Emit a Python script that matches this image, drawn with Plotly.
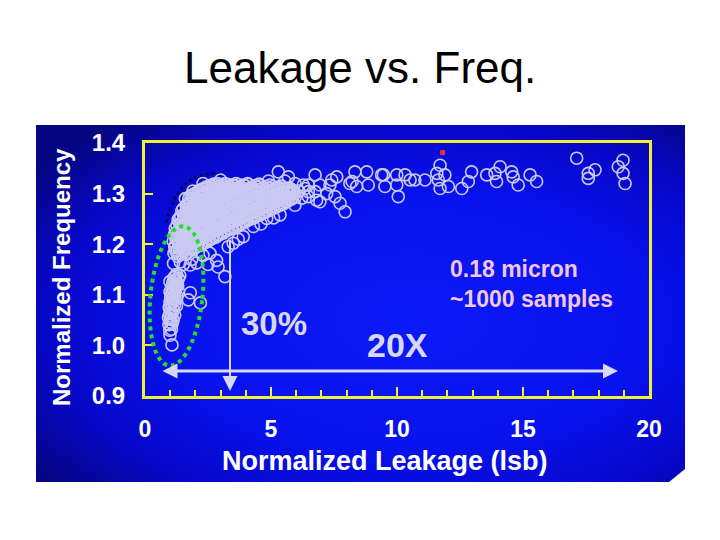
import base64
import numpy as np
import plotly.graph_objects as go

# ---------------- data ----------------
# dense main cloud (first pass)
cloud_leak = [
    1.15, 1.18, 1.12, 1.17, 1.20,
    1.30, 1.28, 1.33, 1.29, 1.32, 1.27, 1.31,
    1.46, 1.43, 1.47, 1.44, 1.48, 1.45, 1.42, 1.46,
    1.61, 1.58, 1.62, 1.59, 1.63, 1.60, 1.57, 1.61, 1.64,
    1.76, 1.73, 1.77, 1.74, 1.78, 1.75, 1.72, 1.76, 1.79, 1.74,
    1.91, 1.88, 1.92, 1.89, 1.93, 1.90, 1.87, 1.91, 1.94, 1.89,
    2.06, 2.03, 2.07, 2.04, 2.08, 2.05, 2.02, 2.06, 2.09, 2.04,
    2.21, 2.18, 2.22, 2.19, 2.23, 2.20, 2.17, 2.21, 2.24, 2.19,
    2.36, 2.33, 2.37, 2.34, 2.38, 2.35, 2.32, 2.36, 2.39, 2.34,
    2.51, 2.48, 2.52, 2.49, 2.53, 2.50, 2.47, 2.51, 2.54, 2.49,
    2.66, 2.63, 2.67, 2.64, 2.68, 2.65, 2.62, 2.66, 2.69, 2.64,
    2.81, 2.78, 2.82, 2.79, 2.83, 2.80, 2.77, 2.81, 2.84, 2.79,
    2.96, 2.93, 2.97, 2.94, 2.98, 2.95, 2.92, 2.96, 2.99,
    3.11, 3.08, 3.12, 3.09, 3.13, 3.10, 3.07, 3.11, 3.14,
    3.26, 3.23, 3.27, 3.24, 3.28, 3.25, 3.22, 3.26, 3.29,
    3.41, 3.38, 3.42, 3.39, 3.43, 3.40, 3.37, 3.41,
    3.56, 3.53, 3.57, 3.54, 3.58, 3.55, 3.52, 3.56,
    3.71, 3.68, 3.72, 3.69, 3.73, 3.70, 3.67, 3.71,
    3.86, 3.83, 3.87, 3.84, 3.88, 3.85, 3.82,
    4.01, 3.98, 4.02, 3.99, 4.03, 4.00, 3.97,
    4.16, 4.13, 4.17, 4.14, 4.18, 4.15, 4.12,
    4.31, 4.28, 4.32, 4.29, 4.33, 4.30,
    4.46, 4.43, 4.47, 4.44, 4.48, 4.45,
    4.61, 4.58, 4.62, 4.59, 4.63, 4.60,
    4.76, 4.73, 4.77, 4.74, 4.78,
    4.91, 4.88, 4.92, 4.89, 4.93,
    5.06, 5.03, 5.07, 5.04, 5.08,
    5.21, 5.18, 5.22, 5.19,
    5.36, 5.33, 5.37, 5.34,
    5.51, 5.48, 5.52, 5.49,
    5.66, 5.63, 5.67,
    5.81, 5.78, 5.82,
    5.96, 5.93,
]
cloud_freq = [
    1.182, 1.194, 1.206, 1.219, 1.231,
    1.176, 1.188, 1.200, 1.212, 1.224, 1.237, 1.248,
    1.183, 1.195, 1.207, 1.219, 1.231, 1.243, 1.255, 1.266,
    1.180, 1.192, 1.204, 1.216, 1.228, 1.240, 1.252, 1.263, 1.275,
    1.186, 1.198, 1.210, 1.222, 1.234, 1.246, 1.258, 1.270, 1.281, 1.291,
    1.189, 1.201, 1.213, 1.225, 1.237, 1.249, 1.261, 1.273, 1.285, 1.296,
    1.195, 1.207, 1.219, 1.231, 1.243, 1.255, 1.267, 1.279, 1.290, 1.301,
    1.198, 1.210, 1.222, 1.234, 1.246, 1.258, 1.270, 1.282, 1.294, 1.305,
    1.203, 1.215, 1.227, 1.239, 1.251, 1.263, 1.275, 1.287, 1.298, 1.309,
    1.206, 1.218, 1.230, 1.242, 1.254, 1.266, 1.278, 1.290, 1.301, 1.312,
    1.211, 1.223, 1.235, 1.247, 1.259, 1.271, 1.283, 1.295, 1.306, 1.315,
    1.214, 1.226, 1.238, 1.250, 1.262, 1.274, 1.286, 1.298, 1.308, 1.317,
    1.219, 1.231, 1.243, 1.255, 1.267, 1.279, 1.291, 1.302, 1.313,
    1.222, 1.234, 1.246, 1.258, 1.270, 1.282, 1.294, 1.305, 1.316,
    1.227, 1.239, 1.251, 1.263, 1.275, 1.287, 1.298, 1.309, 1.318,
    1.230, 1.242, 1.254, 1.266, 1.278, 1.290, 1.301, 1.312,
    1.234, 1.246, 1.258, 1.270, 1.282, 1.294, 1.305, 1.316,
    1.238, 1.250, 1.262, 1.274, 1.286, 1.297, 1.308, 1.318,
    1.241, 1.253, 1.265, 1.277, 1.289, 1.300, 1.312,
    1.245, 1.257, 1.269, 1.281, 1.293, 1.304, 1.315,
    1.249, 1.261, 1.273, 1.285, 1.296, 1.307, 1.318,
    1.252, 1.264, 1.276, 1.288, 1.299, 1.311,
    1.256, 1.268, 1.280, 1.291, 1.302, 1.313,
    1.259, 1.271, 1.283, 1.294, 1.305, 1.316,
    1.263, 1.275, 1.286, 1.297, 1.309,
    1.266, 1.278, 1.289, 1.300, 1.311,
    1.270, 1.281, 1.292, 1.303, 1.314,
    1.273, 1.284, 1.295, 1.306,
    1.277, 1.288, 1.298, 1.309,
    1.280, 1.291, 1.301, 1.311,
    1.285, 1.295, 1.305,
    1.289, 1.299, 1.308,
    1.293, 1.303,
]

# dense main cloud (second pass, between the first-pass samples)
cloud2_leak = [
    1.22, 1.21, 1.23, 1.22,
    1.37, 1.36, 1.38, 1.37, 1.36, 1.38, 1.37,
    1.52, 1.51, 1.53, 1.52, 1.51, 1.53, 1.52, 1.51,
    1.67, 1.66, 1.68, 1.67, 1.66, 1.68, 1.67, 1.66, 1.68,
    1.82, 1.81, 1.83, 1.82, 1.81, 1.83, 1.82, 1.81, 1.83, 1.82,
    1.97, 1.96, 1.98, 1.97, 1.96, 1.98, 1.97, 1.96, 1.98, 1.97,
    2.12, 2.11, 2.13, 2.12, 2.11, 2.13, 2.12, 2.11, 2.13, 2.12,
    2.27, 2.26, 2.28, 2.27, 2.26, 2.28, 2.27, 2.26, 2.28, 2.27,
    2.42, 2.41, 2.43, 2.42, 2.41, 2.43, 2.42, 2.41, 2.43, 2.42,
    2.57, 2.56, 2.58, 2.57, 2.56, 2.58, 2.57, 2.56, 2.58, 2.57,
    2.72, 2.71, 2.73, 2.72, 2.71, 2.73, 2.72, 2.71, 2.73, 2.72,
    2.87, 2.86, 2.88, 2.87, 2.86, 2.88, 2.87, 2.86, 2.88, 2.87,
    3.02, 3.01, 3.03, 3.02, 3.01, 3.03, 3.02, 3.01, 3.03,
    3.17, 3.16, 3.18, 3.17, 3.16, 3.18, 3.17, 3.16, 3.18,
    3.32, 3.31, 3.33, 3.32, 3.31, 3.33, 3.32, 3.31,
    3.47, 3.46, 3.48, 3.47, 3.46, 3.48, 3.47, 3.46,
    3.62, 3.61, 3.63, 3.62, 3.61, 3.63, 3.62, 3.61,
    3.77, 3.76, 3.78, 3.77, 3.76, 3.78, 3.77,
    3.92, 3.91, 3.93, 3.92, 3.91, 3.93, 3.92,
    4.07, 4.06, 4.08, 4.07, 4.06, 4.08, 4.07,
    4.22, 4.21, 4.23, 4.22, 4.21, 4.23,
    4.37, 4.36, 4.38, 4.37, 4.36, 4.38,
    4.52, 4.51, 4.53, 4.52, 4.51, 4.53,
    4.67, 4.66, 4.68, 4.67, 4.66,
    4.82, 4.81, 4.83, 4.82, 4.81,
    4.97, 4.96, 4.98, 4.97, 4.96,
    5.12, 5.11, 5.13, 5.12,
    5.27, 5.26, 5.28, 5.27,
    5.42, 5.41, 5.43, 5.42,
    5.57, 5.56, 5.58,
    5.72, 5.71, 5.73,
    5.87, 5.86,
]
cloud2_freq = [
    1.186, 1.198, 1.210, 1.222,
    1.180, 1.192, 1.204, 1.216, 1.228, 1.240, 1.252,
    1.186, 1.198, 1.210, 1.222, 1.234, 1.246, 1.258, 1.270,
    1.184, 1.196, 1.208, 1.220, 1.232, 1.244, 1.256, 1.268, 1.280,
    1.190, 1.202, 1.214, 1.226, 1.238, 1.250, 1.262, 1.274, 1.286, 1.296,
    1.193, 1.205, 1.217, 1.229, 1.241, 1.253, 1.265, 1.277, 1.289, 1.300,
    1.199, 1.211, 1.223, 1.235, 1.247, 1.259, 1.271, 1.283, 1.295, 1.305,
    1.202, 1.214, 1.226, 1.238, 1.250, 1.262, 1.274, 1.286, 1.298, 1.309,
    1.207, 1.219, 1.231, 1.243, 1.255, 1.267, 1.279, 1.291, 1.303, 1.313,
    1.210, 1.222, 1.234, 1.246, 1.258, 1.270, 1.282, 1.294, 1.306, 1.316,
    1.215, 1.227, 1.239, 1.251, 1.263, 1.275, 1.287, 1.299, 1.310, 1.319,
    1.218, 1.230, 1.242, 1.254, 1.266, 1.278, 1.290, 1.302, 1.313, 1.320,
    1.223, 1.235, 1.247, 1.259, 1.271, 1.283, 1.295, 1.307, 1.318,
    1.226, 1.238, 1.250, 1.262, 1.274, 1.286, 1.298, 1.310, 1.320,
    1.231, 1.243, 1.255, 1.267, 1.279, 1.291, 1.303, 1.314,
    1.234, 1.246, 1.258, 1.270, 1.282, 1.294, 1.306, 1.317,
    1.238, 1.250, 1.262, 1.274, 1.286, 1.298, 1.310, 1.320,
    1.242, 1.254, 1.266, 1.278, 1.290, 1.302, 1.314,
    1.245, 1.257, 1.269, 1.281, 1.293, 1.305, 1.317,
    1.249, 1.261, 1.273, 1.285, 1.297, 1.309, 1.320,
    1.253, 1.265, 1.277, 1.289, 1.301, 1.313,
    1.256, 1.268, 1.280, 1.292, 1.304, 1.316,
    1.260, 1.272, 1.284, 1.296, 1.308, 1.319,
    1.263, 1.275, 1.287, 1.299, 1.311,
    1.267, 1.279, 1.291, 1.303, 1.314,
    1.270, 1.282, 1.294, 1.306, 1.317,
    1.274, 1.286, 1.298, 1.310,
    1.277, 1.289, 1.301, 1.313,
    1.281, 1.293, 1.305, 1.315,
    1.284, 1.296, 1.308,
    1.288, 1.300, 1.311,
    1.292, 1.304,
]

# low-leakage cluster (inside the green ellipse)
low_leak = [0.98, 1.05, 0.95, 1.08, 1.00, 1.12, 0.93, 0.97, 1.08, 1.18,
            1.02, 1.13, 0.96, 1.05, 1.17, 0.99, 1.25, 1.10, 1.20, 1.02,
            1.06, 1.15, 1.26, 1.12, 1.22, 1.05, 1.32, 1.18, 1.28, 1.10,
            1.22, 1.33, 1.15, 1.25, 1.38, 1.07, 0.99,
            1.01, 1.04, 1.10, 1.14, 1.08, 1.19, 1.16, 1.24, 1.30, 1.20]
low_freq = [1.030, 1.032, 1.041, 1.043, 1.052, 1.050, 1.055, 1.062, 1.064, 1.060,
            1.072, 1.070, 1.075, 1.082, 1.080, 1.085, 1.078, 1.092, 1.090, 1.095,
            1.102, 1.100, 1.098, 1.110, 1.112, 1.115, 1.108, 1.120, 1.122, 1.124,
            1.130, 1.132, 1.134, 1.140, 1.138, 1.001, 1.020,
            1.046, 1.058, 1.086, 1.093, 1.105, 1.106, 1.117, 1.126, 1.118, 1.137]

# scattered samples around the cloud edges
edge_leak = [1.13, 1.52, 0.99, 1.79, 2.05, 2.50, 2.90, 0.99, 3.17, 2.84,
             2.20, 1.72, 1.80, 3.90, 4.30, 4.83, 5.36, 3.50, 2.58, 5.95,
             6.22, 6.48, 5.75, 2.30, 1.40, 1.85, 3.30, 3.70, 4.60, 5.10,
             3.00, 2.30, 1.90, 1.60, 4.90, 5.55, 6.10, 6.35]
edge_freq = [1.162, 1.160, 1.126, 1.159, 1.163, 1.160, 1.155, 1.106, 1.136, 1.168,
             1.084, 1.090, 1.104, 1.215, 1.235, 1.251, 1.258, 1.202, 1.182, 1.277,
             1.291, 1.304, 1.307, 1.178, 1.165, 1.170, 1.195, 1.210, 1.240, 1.252,
             1.327, 1.320, 1.305, 1.290, 1.325, 1.325, 1.305, 1.310]

# high-leakage tail
tail_leak = [5.29, 5.69, 5.95, 6.28, 6.75, 6.48, 6.75, 6.94, 7.34, 7.61,
             7.41, 7.54, 7.74, 7.94, 8.33, 8.80, 8.13, 8.40, 8.86, 9.39,
             9.46, 6.94, 6.48, 7.21, 6.81, 8.22,
             9.52, 9.99, 9.99, 10.05, 10.32, 10.52, 10.71, 11.11, 11.58, 11.71,
             11.64, 11.71, 11.90, 12.04, 12.57, 12.83, 12.96, 13.56, 13.95, 13.89,
             14.09, 14.55, 14.61, 14.81, 15.28, 15.54, 17.13, 17.59, 17.86, 17.59,
             18.78, 18.97, 18.97, 19.05]
tail_freq = [1.343, 1.333, 1.320, 1.317, 1.337, 1.294, 1.304, 1.284, 1.317, 1.333,
             1.327, 1.294, 1.281, 1.264, 1.343, 1.343, 1.320, 1.314, 1.317, 1.337,
             1.337, 1.317, 1.317, 1.300, 1.287, 1.324,
             1.314, 1.337, 1.317, 1.294, 1.337, 1.327, 1.327, 1.327, 1.340, 1.356,
             1.327, 1.310, 1.337, 1.314, 1.310, 1.324, 1.343, 1.337, 1.324, 1.340,
             1.353, 1.343, 1.333, 1.317, 1.337, 1.324, 1.370, 1.340, 1.347, 1.330,
             1.353, 1.366, 1.340, 1.320]

# the small red marker
red_leak = [11.81]
red_freq = [1.381]

x_ticks = [0, 5, 10, 15, 20]
y_ticks = [0.9, 1.0, 1.1, 1.2, 1.3, 1.4]

# ---------------- styling ----------------
CIRCLE = "#C9C9F2"
YELLOW = "#F2F032"
LIGHT = "#D8D8F0"
FONT = "Liberation Sans"
OFF = 8  # page body margin of the exported html

all_leak = cloud_leak + cloud2_leak + low_leak + edge_leak + tail_leak
all_freq = cloud_freq + cloud2_freq + low_freq + edge_freq + tail_freq

fig = go.Figure()
fig.add_trace(go.Scatter(
    x=all_leak, y=all_freq, mode="markers",
    marker=dict(symbol="circle-open", size=12, color=CIRCLE, line=dict(width=1.6)),
    showlegend=False, hoverinfo="skip"))
fig.add_trace(go.Scatter(
    x=red_leak, y=red_freq, mode="markers",
    marker=dict(symbol="square", size=5, color="#E83030"),
    showlegend=False, hoverinfo="skip"))

# plot-area geometry in screen pixels -> helpers for decorative items
L, R, T, B = 145, 649, 143, 396
def px2x(px):
    return (px - L) / (R - L) * 20.0
def py2y(py):
    return 1.4 - (py - T) / (B - T) * 0.5
def px2paper(px):
    return (px - L) / (R - L)
def py2paper(py):
    return (B - py) / (B - T)

# green dotted ellipse around the low cluster (tilted)
cx, cy, a, b, rot = 176.5, 296.0, 26.0, 70.0, np.radians(6)
t = np.linspace(0, 2 * np.pi, 90)
ex = cx + a * np.cos(t) * np.cos(rot) + b * np.sin(t) * np.sin(rot)
ey = cy - b * np.sin(t) * np.cos(rot) + a * np.cos(t) * np.sin(rot)
path = "M " + " L ".join(f"{px2x(u):.4f},{py2y(v):.5f}" for u, v in zip(ex, ey)) + " Z"
fig.add_shape(type="path", path=path, xref="x", yref="y",
              line=dict(color="#22E02A", width=4, dash="dot"), layer="above")

# dark dotted arc above the cloud
arc_px = [(166, 222), (170, 210), (175, 198), (183, 186), (192, 179), (202, 175), (212, 173), (222, 175)]
arc = "M " + " L ".join(f"{px2x(u):.4f},{py2y(v):.5f}" for u, v in arc_px)
fig.add_shape(type="path", path=arc, xref="x", yref="y",
              line=dict(color="#000060", width=3, dash="dot"), layer="below")

# arrows
fig.add_annotation(x=px2x(618), y=py2y(371), ax=px2x(161), ay=py2y(371),
                   xref="x", yref="y", axref="x", ayref="y", text="",
                   showarrow=True, arrowside="end+start", arrowhead=2, startarrowhead=2,
                   arrowwidth=3, arrowsize=1.0, startarrowsize=1.0, arrowcolor=LIGHT,
                   standoff=0, startstandoff=0)
fig.add_annotation(x=px2x(230), y=py2y(391), ax=px2x(230), ay=py2y(238),
                   xref="x", yref="y", axref="x", ayref="y", text="",
                   showarrow=True, arrowhead=2, arrowwidth=2, arrowsize=1.5,
                   arrowcolor=LIGHT, standoff=0)

# text labels
fig.add_annotation(x=px2x(274), y=py2y(323), xref="x", yref="y", text="<b>30%</b>",
                   showarrow=False, font=dict(family=FONT, size=33, color=LIGHT))
fig.add_annotation(x=px2x(397), y=py2y(345), xref="x", yref="y", text="<b>20X</b>",
                   showarrow=False, font=dict(family=FONT, size=34, color=LIGHT))
fig.add_annotation(x=px2x(448), y=py2y(284), xref="x", yref="y",
                   text="<b>0.18 micron</b><br><b>~1000 samples</b>",
                   showarrow=False, xanchor="left", yanchor="middle", align="left",
                   font=dict(family=FONT, size=23, color="#F2C6E6"))

# slide title
fig.add_annotation(x=px2paper(360), y=py2paper(68), xref="paper", yref="paper",
                   text="Leakage vs. Freq.", showarrow=False, yanchor="middle",
                   xanchor="center", font=dict(family=FONT, size=44, color="black"))

# axis titles (placed as in the slide)
fig.add_annotation(x=px2paper(385), y=py2paper(461), xref="paper", yref="paper",
                   text="<b>Normalized Leakage (lsb)</b>", showarrow=False,
                   xanchor="center", yanchor="middle",
                   font=dict(family=FONT, size=27, color="white"))
fig.add_annotation(x=px2paper(61), y=py2paper(277), xref="paper", yref="paper",
                   text="<b>Normalized Frequency</b>", showarrow=False, textangle=-90,
                   xanchor="center", yanchor="middle",
                   font=dict(family=FONT, size=24, color="white"))

# blue slide-image background with a gradient
svg = ("<svg xmlns='http://www.w3.org/2000/svg' width='649' height='357' viewBox='0 0 649 357' "
       "preserveAspectRatio='none'><defs><radialGradient id='g' cx='0.58' cy='0.55' r='0.72'>"
       "<stop offset='0' stop-color='#0A1AF6'/><stop offset='0.5' stop-color='#0812EE'/>"
       "<stop offset='0.78' stop-color='#0707C8'/><stop offset='1' stop-color='#050582'/>"
       "</radialGradient></defs><polygon points='0,0 649,0 649,344 633,357 0,357' fill='url(#g)'/></svg>")
src = "data:image/svg+xml;base64," + base64.b64encode(svg.encode()).decode()
fig.add_layout_image(source=src, xref="paper", yref="paper",
                     x=px2paper(36), y=py2paper(125),
                     sizex=(685 - 36) / (R - L), sizey=(482 - 125) / (B - T),
                     xanchor="left", yanchor="top", sizing="stretch", layer="below")

axis_font = dict(family=FONT, size=23, color="white", weight="bold")
fig.update_xaxes(range=[0, 20], tickvals=x_ticks, ticktext=[str(v) for v in x_ticks],
                 showline=True, linecolor=YELLOW, linewidth=3, mirror=True,
                 ticks="inside", ticklen=9, tickwidth=2, tickcolor=YELLOW,
                 minor=dict(ticks="inside", dtick=1, ticklen=6, tickwidth=2, tickcolor=YELLOW),
                 showgrid=False, zeroline=False, tickfont=axis_font, ticklabelstandoff=10)
fig.update_yaxes(range=[0.9, 1.4], tickvals=y_ticks, ticktext=[f"{v:.1f}" for v in y_ticks],
                 showline=True, linecolor=YELLOW, linewidth=3, mirror=True,
                 ticks="inside", ticklen=8, tickwidth=2, tickcolor=YELLOW,
                 showgrid=False, zeroline=False, tickfont=dict(axis_font, size=24),
                 ticklabelstandoff=12)

fig.update_layout(width=720, height=540,
                  margin=dict(l=L - OFF, r=720 - R + OFF, t=T - OFF, b=540 - B + OFF, autoexpand=False),
                  paper_bgcolor="white", plot_bgcolor="rgba(0,0,0,0)", showlegend=False)

fig.write_html("out.html")
